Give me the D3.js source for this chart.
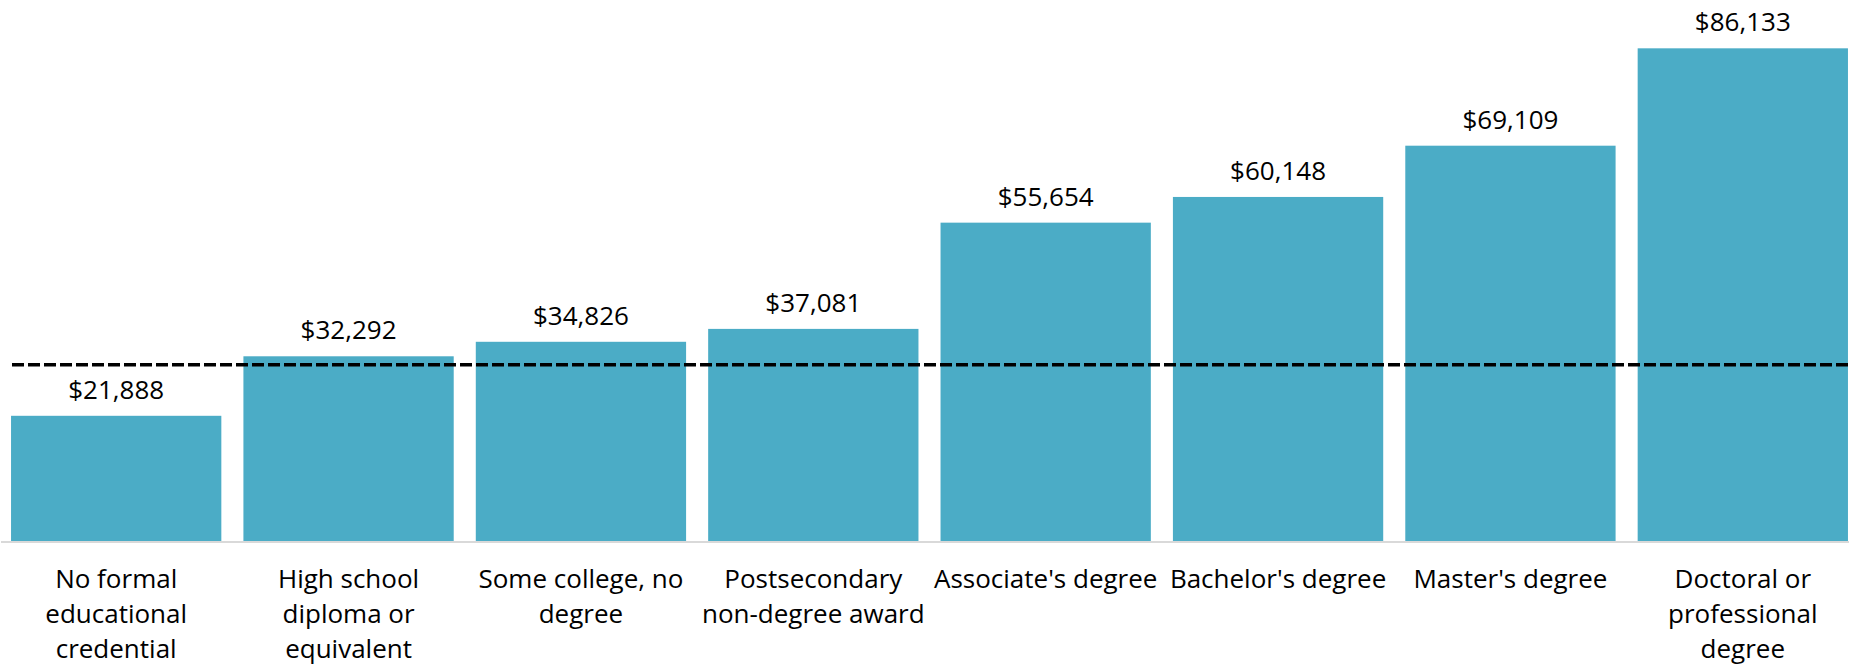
<!DOCTYPE html>
<html>
<head>
<meta charset="utf-8">
<script src="https://cdn.jsdelivr.net/npm/d3@7"></script>
<style>
  body { margin: 0; background: #fff; }
  svg { display: block; }
  text { font-family: "Open Sans", "Noto Sans", sans-serif; fill: #000; }
</style>
</head>
<body>
<div id="chart"></div>
<script>
/* ---------------------- Data ---------------------- */
var categories = [
    ["No formal", "educational", "credential"],
    ["High school", "diploma or", "equivalent"],
    ["Some college, no", "degree"],
    ["Postsecondary", "non-degree award"],
    ["Associate's degree"],
    ["Bachelor's degree"],
    ["Master's degree"],
    ["Doctoral or", "professional", "degree"]
];
var wages = [21888, 32292, 34826, 37081, 55654, 60148, 69109, 86133];
var medianAll = 30800;

/* ---------------------- Layout ---------------------- */
var width = 1849, height = 665;
var baseY = 541;
var colors = {bar: "#4BACC6", axis: "#D9D9D9", line: "#000"};

var svg = d3.select("#chart").append("svg")
    .attr("width", width)
    .attr("height", height);

var xScale = d3.scaleBand()
    .domain(d3.range(wages.length))
    .range([0, 1859])
    .paddingInner(0.095)
    .paddingOuter(0.0475);

var yScale = d3.scaleLinear()
    .domain([0, 94580])
    .range([baseY, 0]);

// Bars
svg.append("g")
    .selectAll("rect")
    .data(wages)
    .enter()
    .append("rect")
    .attr("x", (d, i) => xScale(i))
    .attr("y", d => yScale(d))
    .attr("width", xScale.bandwidth())
    .attr("height", d => yScale(0) - yScale(d))
    .attr("fill", colors.bar);

// Baseline
svg.append("line")
    .attr("x1", 1)
    .attr("x2", width)
    .attr("y1", baseY + 1)
    .attr("y2", baseY + 1)
    .attr("stroke", colors.axis)
    .attr("stroke-width", 2);

// Median line (dashed)
svg.append("line")
    .attr("x1", 12)
    .attr("x2", width)
    .attr("y1", yScale(medianAll))
    .attr("y2", yScale(medianAll))
    .attr("stroke", colors.line)
    .attr("stroke-width", 3.5)
    .attr("stroke-dasharray", "12,4");

// Value labels
var fmt = d3.format("$,");
svg.append("g")
    .selectAll("text")
    .data(wages)
    .enter()
    .append("text")
    .attr("x", (d, i) => xScale(i) + xScale.bandwidth() / 2)
    .attr("y", d => yScale(d) - 17)
    .attr("text-anchor", "middle")
    .style("font-size", "26px")
    .text(d => fmt(d));

// Category labels
var labels = svg.append("g")
    .selectAll("text")
    .data(categories)
    .enter()
    .append("text")
    .attr("text-anchor", "middle")
    .attr("x", (d, i) => xScale(i) + xScale.bandwidth() / 2)
    .attr("y", 588)
    .style("font-size", "26px");

labels.selectAll("tspan")
    .data(d => d)
    .enter()
    .append("tspan")
    .attr("x", function() { return d3.select(this.parentNode).attr("x"); })
    .attr("dy", (d, i) => i === 0 ? 0 : 35)
    .text(d => d);
</script>
</body>
</html>
